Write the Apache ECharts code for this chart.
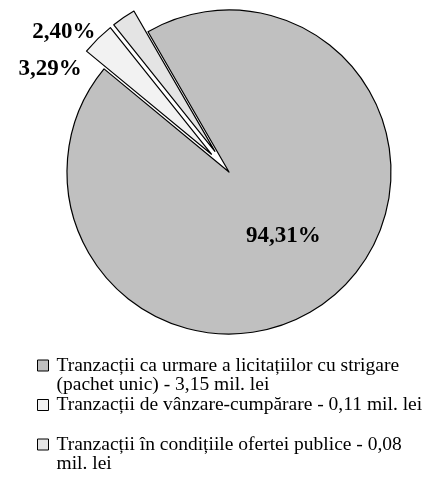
<!DOCTYPE html>
<html>
<head>
<meta charset="utf-8">
<script src="https://cdn.jsdelivr.net/npm/echarts@6/dist/echarts.min.js"></script>
<style>
  html, body { margin: 0; padding: 0; background: #fff; }
  #chart { width: 435px; height: 490px; }
</style>
</head>
<body>
<div id="chart"></div>
<script>
// valori in mil. lei
const categories = [
  'Tranzacții ca urmare a licitațiilor cu strigare\n(pachet unic) - 3,15 mil. lei',
  'Tranzacții de vânzare-cumpărare - 0,11 mil. lei',
  'Tranzacții în condițiile ofertei publice - 0,08\nmil. lei'
];
const values = [3.15, 0.11, 0.08];
const sliceColors = ['#c0c0c0', '#f2f2f2', '#e4e4e4'];
const exploded = [false, true, true];

const chart = echarts.init(document.getElementById('chart'));

// mutarea etichetelor din afara feliilor (ca in Excel)
const labelShift = [[0, 0], [-16, 30], [-28, 15]];

const option = {
  animation: false,
  backgroundColor: '#fff',
  legend: {
    orient: 'vertical',
    left: 37,
    top: 336,
    padding: 0,
    itemGap: 0,
    itemWidth: 11,
    itemHeight: 11,
    icon: 'rect',
    selectedMode: false,
    itemStyle: { borderColor: '#000', borderWidth: 1 },
    textStyle: {
      fontFamily: 'Liberation Serif',
      fontSize: 19.5,
      lineHeight: 19.5,
      color: '#000',
      padding: [0, 0, 0, 3]
    },
    // prima linie a textului aliniata cu patratelul
    formatter: function (name) {
      return name.indexOf('\n') >= 0 ? ' \n' + name : name;
    },
    data: categories
  },
  series: [
    {
      type: 'pie',
      center: [229, 172],
      radius: 162,
      startAngle: 120,
      clockwise: true,
      avoidLabelOverlap: false,
      selectedMode: 'multiple',
      selectedOffset: 25,
      itemStyle: { borderColor: '#000', borderWidth: 1.2 },
      select: { itemStyle: { borderColor: '#000', borderWidth: 1.2 } },
      emphasis: { disabled: true },
      labelLine: { show: false, length: 0, length2: 0 },
      label: {
        fontFamily: 'Liberation Serif',
        fontSize: 23,
        fontWeight: 'bold',
        color: '#000',
        distanceToLabelLine: 0,
        formatter: function (p) {
          return p.percent.toFixed(2).replace('.', ',') + '%';
        }
      },
      labelLayout: function (p) {
        const s = labelShift[p.dataIndex];
        return { dx: s[0], dy: s[1] };
      },
      data: values.map(function (v, i) {
        return {
          value: v,
          name: categories[i],
          selected: exploded[i],
          itemStyle: { color: sliceColors[i] },
          label: { position: exploded[i] ? 'outside' : 'inside' }
        };
      })
    }
  ]
};
chart.setOption(option);
</script>
</body>
</html>
